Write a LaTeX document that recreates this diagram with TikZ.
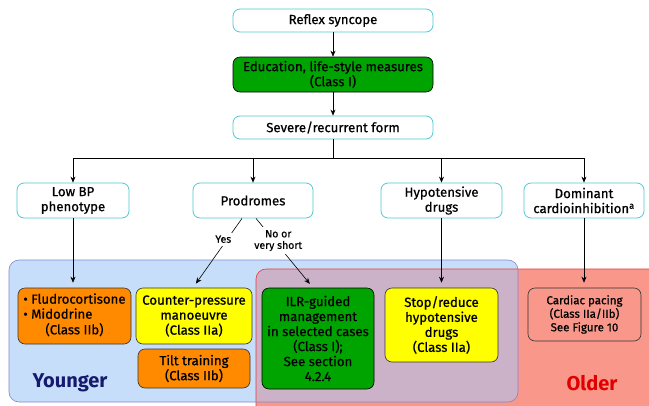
\documentclass[tikz,border=0pt]{standalone}
\usepackage{fontspec}
\setmainfont{Fira Sans}[UprightFeatures={FakeBold=0.7}]
\usetikzlibrary{arrows.meta}

\definecolor{askline}{HTML}{4FC9D3}
\definecolor{classgreen}{HTML}{00A400}
\definecolor{classorange}{HTML}{FF8A00}
\definecolor{classyellow}{HTML}{FFFF00}
\definecolor{youngfill}{HTML}{C6DEFA}
\definecolor{youngline}{HTML}{8585CC}
\definecolor{oldfill}{HTML}{F8978A}
\definecolor{oldline}{HTML}{E83A3A}
\definecolor{bothfill}{HTML}{CBB2C8}
\definecolor{youngtext}{HTML}{161A6E}
\definecolor{oldtext}{HTML}{E00000}

\begin{document}
\begin{tikzpicture}[
        x={(1pt,0pt)},
        y={(0pt,-1pt)},
        every node/.style={font=\fontsize{13.2}{15}\selectfont, align=center, inner sep=2pt},
        % Cyan question boxes and coloured treatment boxes
        askbox/.style={draw=askline, line width=0.8pt, fill=white, rounded corners=7pt},
        treatbox/.style={draw=black!80, line width=0.6pt, rounded corners=7pt},
        arrow/.style={-{Stealth[length=6pt,width=5pt]}, line width=0.6pt},
        branchlabel/.style={fill=white, inner sep=3pt, font=\fontsize{10.5}{11.5}\selectfont}
    ]
        % Define picture frame (reference pixels)
        \useasboundingbox (0,0) rectangle (649,405);
        \def\mainWidth{200pt}

        % Age regions: younger (blue), older (red), overlap in between
        \fill[youngfill, rounded corners=10pt] (9,260) rectangle (518,402);
        \fill[oldfill, rounded corners=10pt] (256,269) rectangle (670,420);
        \begin{scope}
            \clip[rounded corners=10pt] (9,260) rectangle (518,402);
            \fill[bothfill, rounded corners=10pt] (256,269) rectangle (670,420);
        \end{scope}
        \draw[oldline, line width=0.6pt, rounded corners=10pt] (256,269) rectangle (670,420);
        \draw[youngline, line width=0.6pt, rounded corners=10pt] (9,260) rectangle (518,402);
        \node[font=\fontsize{20}{22}\selectfont\bfseries, text=youngtext] (younger) at (70,383) {Younger};
        \node[font=\fontsize{20}{22}\selectfont\bfseries, text=oldtext] (older) at (592,383) {Older};

        % Main column
        \node[askbox, minimum width=\mainWidth, minimum height=23pt] (reflex) at (333,20.5) {Reflex syncope};
        \node[treatbox, draw=black, fill=classgreen, minimum width=\mainWidth, minimum height=35pt] (education) at (333,74.5)
            {Education, life-style measures\\(Class I)};
        \node[askbox, minimum width=\mainWidth, minimum height=23pt] (severe) at (333,127.5) {Severe/recurrent form};
        \coordinate (split) at (333,158);

        % Second row of questions
        \node[askbox, minimum width=112pt, minimum height=35pt] (lowbp) at (73,200.5) {Low BP\\phenotype};
        \node[askbox, minimum width=120pt, minimum height=35pt] (prodromes) at (253,200.5) {Prodromes};
        \node[askbox, minimum width=121pt, minimum height=35pt] (hypo) at (441.5,200.5) {Hypotensive\\drugs};
        \node[askbox, minimum width=120pt, minimum height=35pt] (dominant) at (584,200.5) {Dominant\\cardioinhibition\textsuperscript{a}};

        % Treatments
        \node[treatbox, fill=classorange, minimum width=113pt, minimum height=56pt] (fludro) at (74.5,316)
            {\begin{tabular}{@{}l@{}}• Fludrocortisone\\• Midodrine\\\multicolumn{1}{@{}c@{}}{(Class IIb)}\end{tabular}};
        \node[treatbox, fill=classyellow, minimum width=116pt, minimum height=56pt] (counter) at (194,316)
            {Counter-pressure\\manoeuvre\\(Class IIa)};
        \node[treatbox, fill=classorange, minimum width=112pt, minimum height=39pt] (tilt) at (194,368.5)
            {Tilt training\\(Class IIb)};
        \node[treatbox, draw=black, fill=classgreen, minimum width=112pt, minimum height=101pt] (ilr) at (318,338.5)
            {ILR-guided\\management\\in selected cases\\(Class I);\\See section\\4.2.4};
        \node[treatbox, fill=classyellow, minimum width=113pt, minimum height=74pt] (stop) at (441.5,325)
            {Stop/reduce\\hypotensive\\drugs\\(Class IIa)};
        \node[treatbox, fill=oldfill, minimum width=113pt, minimum height=53pt, font=\fontsize{11.5}{13.5}\selectfont] (pacing) at (584.5,314.5)
            {Cardiac pacing\\(Class IIa/IIb)\\See Figure 10};

        % Connectors
        \draw[arrow] (reflex) -- (education);
        \draw[arrow] (education) -- (severe);
        \draw[line width=0.6pt] (severe) -- (split);
        \draw[line width=0.6pt] (split -| lowbp) -- (split -| dominant);
        \foreach \q in {lowbp, prodromes, hypo, dominant}
            \draw[arrow] (split -| \q) -- (\q);
        \draw[arrow, shorten >=5pt] (lowbp.south) -- (lowbp.south |- fludro.north);
        \draw[arrow, shorten >=5pt] (hypo.south) -- (hypo.south |- stop.north);
        \draw[arrow, shorten >=5pt] (dominant.south) -- (dominant.south |- pacing.north);
        \draw[arrow, shorten >=5pt] ([xshift=-11pt]prodromes.south) -- ([xshift=-1pt]counter.north)
            node[branchlabel, pos=0.3, xshift=-4pt] (yes) {Yes};
        \draw[arrow, shorten >=5pt] ([xshift=3pt]prodromes.south) -- ([xshift=-5pt]ilr.north)
            node[branchlabel, pos=0.32, xshift=4pt] (no) {No or\\very short};
    \end{tikzpicture}
\end{document}
